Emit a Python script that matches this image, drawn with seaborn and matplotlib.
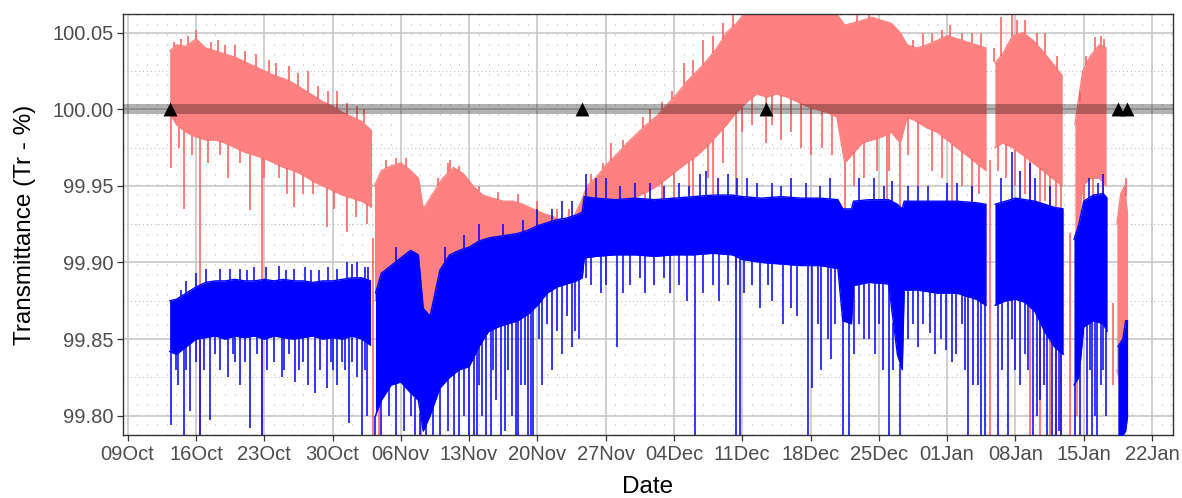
import numpy as np
import pandas as pd
import seaborn as sns
import matplotlib
matplotlib.use('Agg')
import matplotlib.pyplot as plt
import matplotlib.dates as mdates
from matplotlib.ticker import FixedLocator, MultipleLocator, FormatStrFormatter

START = pd.Timestamp('2017-10-09')

# ---- red trace: days after 09 Oct, top / bottom of the noise band, segment id
red_days = [4.3, 5, 6, 7, 8, 9, 10, 11, 12, 13, 14, 15, 16, 17, 18, 19, 20, 21, 22, 23, 24, 25.0,
            25.3, 26, 27, 28, 29, 29.8, 30.3, 31.3, 32.3, 33.4, 34.4, 35.4, 36.4, 37.4, 38.5, 39.5,
            40.5, 41.5, 42.6, 43.6, 44.6, 45.6, 46.5, 47.1, 48.1, 49.1, 50.2, 51.2, 52.2, 53.2,
            54.3, 55.3, 56.3, 57.3, 58.4, 59.4, 60.4, 61.4, 62.4, 63.5, 64.5, 65.5, 66.5, 67.6,
            68.6, 69.6, 70.6, 71.7, 72.7, 73.5, 74.2, 75.3, 76.3, 77.3, 78.3, 79.2, 79.9, 80.9,
            81.9, 83.0, 84.0, 85.0, 86.0, 87.0, 88.0,
            88.9, 89.7, 90.7, 91.8, 92.8, 93.8, 94.8, 95.8,
            97.1, 97.9, 98.7, 99.6, 100.3,
            101.4, 101.8, 102.2, 102.5]
red_hi = [100.038, 100.042, 100.041, 100.046, 100.040, 100.038, 100.036, 100.034, 100.031, 100.028,
          100.025, 100.022, 100.020, 100.017, 100.013, 100.009, 100.005, 100.002, 99.998, 99.995,
          99.992, 99.986,
          99.950, 99.960, 99.963, 99.965, 99.960, 99.955, 99.935, 99.945, 99.955, 99.962, 99.958,
          99.950, 99.944, 99.942, 99.940, 99.940, 99.938, 99.935, 99.932, 99.930, 99.926, 99.928,
          99.940, 99.950, 99.956, 99.964, 99.971, 99.978, 99.984, 99.990, 99.996, 100.003, 100.010,
          100.018, 100.025, 100.032, 100.040, 100.050, 100.056, 100.065, 100.065, 100.065, 100.065,
          100.065, 100.065, 100.065, 100.065, 100.065, 100.062, 100.055, 100.056, 100.058, 100.060,
          100.058, 100.056, 100.050, 100.042, 100.040, 100.042, 100.045, 100.048, 100.046, 100.044,
          100.042, 100.040,
          100.030, 100.036, 100.048, 100.050, 100.045, 100.038, 100.030, 100.022,
          99.990, 100.025, 100.035, 100.042, 100.040,
          99.925, 99.945, 99.950, 99.930]
red_lo = [99.998, 99.990, 99.985, 99.982, 99.980, 99.980, 99.978, 99.975, 99.972, 99.970, 99.968,
          99.965, 99.962, 99.960, 99.957, 99.953, 99.950, 99.947, 99.944, 99.942, 99.940, 99.936,
          99.875, 99.878, 99.880, 99.882, 99.882, 99.878, 99.862, 99.862, 99.870, 99.880, 99.890,
          99.895, 99.900, 99.900, 99.902, 99.905, 99.905, 99.905, 99.910, 99.910, 99.912, 99.915,
          99.920, 99.925, 99.930, 99.934, 99.938, 99.940, 99.943, 99.946, 99.950, 99.955, 99.960,
          99.965, 99.970, 99.976, 99.983, 99.990, 99.998, 100.005, 100.010, 100.008, 100.010,
          100.008, 100.005, 100.002, 100.000, 99.998, 99.995, 99.965, 99.970, 99.978, 99.980,
          99.982, 99.985, 99.978, 99.995, 99.992, 99.988, 99.985, 99.980, 99.975, 99.970, 99.965,
          99.960,
          99.975, 99.978, 99.975, 99.970, 99.965, 99.960, 99.955, 99.950,
          99.900, 99.950, 99.955, 99.955, 99.950,
          99.830, 99.820, 99.810, 99.820]
red_seg = [0] * 22 + [1] * 65 + [2] * 8 + [3] * 5 + [4] * 4

red_dn_days = [4.45, 5.8, 7.4, 10.3, 12.5, 13.8, 16.3, 17.0, 20.4, 22.5, 25.1, 25.8, 30.1, 56.0,
               58.0, 60.0, 62.4, 65.4, 67.0, 73.5, 75.5, 77.8, 79.2, 81.0, 84.5, 86.5, 88.4, 92.5,
               93.5, 94.5, 95.2, 95.7, 96.6, 97.3, 101.0,
               5.3, 6.6, 8.2, 9.5, 11.5, 14.0, 15.5, 18.0, 19.0, 21.2, 23.4, 24.5, 42.0, 47.8,
               49.0, 51.5, 53.0, 54.8, 57.5, 59.5, 61.0, 63.0, 64.0, 66.0, 68.0, 69.0, 70.0, 71.2,
               72.2, 74.5, 76.8, 78.0, 80.0, 82.5, 83.5, 85.5, 87.3, 89.2, 90.0, 91.0, 92.0, 94.0,
               98.0, 99.0, 100.0]
red_dn_vals = [99.962, 99.935, 99.78, 99.955, 99.934, 99.78, 99.945, 99.936, 99.923, 99.920, 99.78,
               99.78, 99.78, 99.935, 99.930, 99.945, 99.895, 99.978, 99.980, 99.928, 99.955, 99.940,
               99.905, 99.950, 99.930, 99.940, 99.78, 99.78, 99.78, 99.78, 99.78, 99.78, 99.78,
               99.80, 99.82,
               99.975, 99.970, 99.965, 99.970, 99.965, 99.955, 99.955, 99.945, 99.945, 99.935,
               99.930, 99.925, 99.900, 99.915, 99.920, 99.925, 99.930, 99.935, 99.945, 99.955,
               99.965, 99.985, 99.990, 99.990, 99.985, 99.975, 99.970, 99.975, 99.970, 99.950,
               99.960, 99.960, 99.970, 99.960, 99.955, 99.950, 99.945, 99.960, 99.955, 99.950,
               99.945, 99.940, 99.930, 99.935, 99.930]
red_up_days = [6.2, 7.0, 9.3, 11.0, 14.5, 18.5, 21.5, 24.2, 28.5, 33.0, 49.5, 53.5, 57.0, 59.0,
               74.8, 76.0, 81.5, 84.3, 87.5, 89.5, 90.7, 92.0, 94.0, 99.2,
               4.8, 5.5, 8.5, 10.0, 12.0, 13.2, 15.2, 16.5, 17.5, 19.5, 20.5, 22.5, 23.5, 26.5,
               27.5, 31.8, 32.8, 34.0, 36.0, 38.0, 40.0, 42.0, 44.0, 45.2, 47.5, 48.7, 50.8, 52.8,
               54.8, 55.8, 58.0, 60.0, 61.0, 62.0, 80.5, 82.5, 83.5, 85.5, 86.5, 88.8, 91.2, 93.2,
               95.3, 97.6, 98.2, 99.8, 100.1, 101.6, 102.3]
red_up_vals = [100.048, 100.052, 100.045, 100.042, 100.032, 100.025, 100.012, 100.000, 99.968,
               99.967, 99.978, 100.000, 100.030, 100.045, 100.062, 100.065, 100.050, 100.055,
               100.050, 100.060, 100.062, 100.058, 100.050, 100.047,
               100.044, 100.046, 100.044, 100.042, 100.038, 100.036, 100.030, 100.028, 100.024,
               100.015, 100.012, 100.004, 100.002, 99.967, 99.968, 99.955, 99.965, 99.963, 99.950,
               99.946, 99.945, 99.940, 99.935, 99.935, 99.958, 99.965, 99.980, 99.995, 100.005,
               100.012, 100.032, 100.048, 100.056, 100.062, 100.045, 100.050, 100.052, 100.050,
               100.050, 100.040, 100.058, 100.050, 100.035, 100.005, 100.035, 100.048, 100.046,
               99.935, 99.955]

# ---- blue trace
blue_days = [4.3, 5, 6, 7, 8, 9, 10, 11, 12, 13, 14, 15, 16, 17, 18, 19, 20, 21, 22, 23, 24, 24.9,
             25.4, 26.0, 27.0, 28.0, 29.0, 29.8, 30.3, 31.0, 32.0, 33.0, 34.0, 35.0, 36.0, 37.0,
             38.0, 39.0, 40.0, 41.0, 42.0, 43.0, 44.0, 45.0, 46.0, 46.6, 46.8, 48.0, 50.0, 52.0,
             54.0, 56.0, 58.0, 60.0, 62.0, 63.0, 65.0, 67.0, 69.0, 71.0, 72.8, 73.3, 74.2, 74.4,
             76.0, 78.0, 78.9, 79.4, 79.6, 81.0, 83.0, 85.0, 87.0, 88.0,
             88.9, 90.0, 91.0, 92.0, 93.0, 94.0, 95.0, 95.9,
             97.0, 97.5, 98.0, 99.0, 100.0, 100.4,
             101.5, 102.0, 102.3, 102.5]
blue_hi = [99.875, 99.876, 99.880, 99.884, 99.887, 99.888, 99.888, 99.889, 99.888, 99.888, 99.889,
           99.888, 99.889, 99.888, 99.888, 99.887, 99.888, 99.888, 99.889, 99.890, 99.890, 99.888,
           99.880, 99.893, 99.898, 99.903, 99.908, 99.905, 99.870, 99.865, 99.895, 99.905, 99.908,
           99.910, 99.914, 99.916, 99.917, 99.918, 99.919, 99.921, 99.924, 99.926, 99.928, 99.929,
           99.931, 99.933, 99.943, 99.942, 99.941, 99.942, 99.941, 99.942, 99.943, 99.944, 99.944,
           99.943, 99.942, 99.943, 99.942, 99.942, 99.941, 99.935, 99.935, 99.940, 99.941, 99.941,
           99.938, 99.935, 99.940, 99.940, 99.940, 99.940, 99.939, 99.938,
           99.938, 99.940, 99.942, 99.941, 99.940, 99.938, 99.936, 99.935,
           99.915, 99.925, 99.940, 99.944, 99.945, 99.942,
           99.845, 99.850, 99.862, 99.862]
blue_lo = [99.842, 99.840, 99.845, 99.850, 99.851, 99.852, 99.850, 99.852, 99.851, 99.852, 99.850,
           99.852, 99.851, 99.850, 99.851, 99.852, 99.850, 99.851, 99.850, 99.852, 99.850, 99.846,
           99.800, 99.810, 99.820, 99.822, 99.815, 99.810, 99.790, 99.800, 99.818, 99.825, 99.830,
           99.832, 99.845, 99.855, 99.858, 99.860, 99.862, 99.866, 99.872, 99.880, 99.884, 99.886,
           99.888, 99.890, 99.903, 99.904, 99.905, 99.905, 99.904, 99.905, 99.905, 99.906, 99.905,
           99.902, 99.900, 99.899, 99.898, 99.898, 99.896, 99.862, 99.860, 99.885, 99.887, 99.886,
           99.840, 99.830, 99.882, 99.882, 99.880, 99.880, 99.876, 99.872,
           99.872, 99.875, 99.876, 99.874, 99.868, 99.855, 99.845, 99.840,
           99.820, 99.825, 99.858, 99.862, 99.860, 99.855,
           99.787, 99.787, 99.790, 99.800]
blue_seg = [0] * 22 + [1] * 52 + [2] * 8 + [3] * 6 + [4] * 4

blue_dn_days = [4.4, 5.0, 5.2, 5.8, 6.4, 7.4, 8.4, 9.0, 10.3, 11.0, 12.5, 13.3, 13.8, 15.0, 15.8,
                16.5, 17.2, 18.0, 19.2, 20.4, 21.0, 22.0, 22.7, 23.5, 24.0, 24.5,
                25.4, 26.0, 26.8, 27.5, 28.3, 29.0, 29.5, 30.0, 30.6, 31.3, 32.0, 32.8, 33.5, 34.0,
                34.5, 35.0, 35.5, 36.0, 36.7, 37.5, 38.3, 39.0, 39.8, 40.3, 41.0, 41.6, 42.2, 43.0,
                44.0, 45.0, 45.9, 47.5, 48.5, 50.2, 51.5, 53.0, 55.0, 56.5, 58.2, 60.0, 61.5, 62.4,
                62.8, 64.0, 66.0, 68.0, 69.7, 70.2, 71.1, 72.1, 73.3, 73.9, 74.5, 75.0, 76.0, 77.4,
                78.0, 78.5, 79.2, 80.5, 81.5, 82.2, 83.9, 84.5, 85.5, 86.1, 86.7, 87.5, 87.9, 89.2,
                90.2, 91.0, 92.0, 92.8, 93.5, 94.2, 94.7, 95.2, 95.7, 97.1, 97.6, 98.3, 98.8, 99.4,
                100.0, 100.3,
                35.8, 36.3, 37.2, 37.8, 38.7, 39.4, 40.0, 40.7, 41.3, 42.5, 43.5, 44.5, 45.5, 46.3,
                47.0, 49.0, 50.8, 52.5, 54.0, 55.6, 57.3, 59.0, 60.6, 63.2, 64.8, 65.6, 67.2, 68.6,
                70.8, 71.8, 72.5, 75.5, 76.6, 77.0, 80.0, 81.0, 82.8, 83.4, 84.9, 85.8, 87.2, 89.6,
                90.6, 91.5, 92.3, 93.2, 93.9, 95.5, 98.6, 99.2, 99.8,
                6.0, 7.0, 7.8, 9.5, 10.8, 11.5, 12.0, 14.3, 16.0, 17.6, 18.5, 19.7, 20.8, 21.5,
                22.3, 23.0, 24.3]
blue_dn_vals = [99.794, 99.830, 99.820, 99.780, 99.803, 99.780, 99.797, 99.840, 99.825, 99.835,
                99.792, 99.840, 99.780, 99.835, 99.825, 99.840, 99.822, 99.835, 99.815, 99.818,
                99.830, 99.835, 99.795, 99.825, 99.780, 99.800,
                99.780, 99.780, 99.800, 99.780, 99.790, 99.800, 99.780, 99.780, 99.780, 99.780,
                99.780, 99.790, 99.780, 99.780, 99.800, 99.780, 99.780, 99.820, 99.780, 99.830,
                99.780, 99.830, 99.780, 99.820, 99.780, 99.780, 99.850, 99.860, 99.855, 99.865,
                99.855, 99.885, 99.880, 99.845, 99.885, 99.880, 99.890, 99.885, 99.780, 99.885,
                99.885, 99.780, 99.780, 99.885, 99.875, 99.870, 99.780, 99.818, 99.830, 99.837,
                99.780, 99.780, 99.840, 99.860, 99.850, 99.830, 99.780, 99.830, 99.780, 99.860,
                99.860, 99.854, 99.843, 99.835, 99.860, 99.780, 99.820, 99.780, 99.780, 99.780,
                99.780, 99.830, 99.840, 99.780, 99.810, 99.780, 99.780, 99.780, 99.780, 99.780,
                99.780, 99.780, 99.780, 99.780, 99.830, 99.800,
                99.780, 99.800, 99.780, 99.810, 99.790, 99.800, 99.780, 99.820, 99.780, 99.820,
                99.830, 99.840, 99.845, 99.850,
                99.890, 99.885, 99.880, 99.890, 99.885, 99.880, 99.875, 99.880, 99.875, 99.880,
                99.870, 99.885, 99.860, 99.865, 99.860, 99.850, 99.860, 99.850, 99.840, 99.860,
                99.850, 99.845, 99.840, 99.850, 99.840, 99.830, 99.820, 99.830, 99.850, 99.820,
                99.830, 99.800, 99.820, 99.790, 99.830, 99.800, 99.820,
                99.830, 99.835, 99.830, 99.830, 99.840, 99.820, 99.835, 99.830, 99.830, 99.830,
                99.820, 99.830, 99.835, 99.820, 99.830, 99.835, 99.830]
blue_up_days = [6.0, 8.0, 9.5, 11.5, 13.0, 15.5, 17.0, 18.8, 20.5, 22.5, 23.5, 24.3, 27.5, 36.0,
                42.0, 44.5, 47.0, 48.0, 52.0, 58.7, 59.3, 60.5, 63.5, 66.0, 68.0, 72.0, 76.5, 81.0,
                85.0, 90.7, 91.5, 93.0, 100.0,
                5.5, 7.0, 10.5, 12.2, 14.2, 16.2, 18.2, 19.6, 21.5, 23.0, 24.6, 32.5, 34.5, 38.5,
                40.5, 43.5, 45.5, 49.0, 50.5, 53.5, 55.0, 56.5, 57.5, 61.5, 62.5, 64.5, 67.0, 69.5,
                71.0, 75.0, 77.5, 78.3, 80.0, 82.0, 84.0, 86.5, 89.5, 92.5, 94.5, 98.5, 99.5]
blue_up_vals = [99.888, 99.896, 99.896, 99.896, 99.897, 99.898, 99.896, 99.895, 99.897, 99.900,
                99.900, 99.897, 99.910, 99.925, 99.935, 99.940, 99.958, 99.955, 99.952, 99.958,
                99.960, 99.955, 99.955, 99.952, 99.955, 99.955, 99.955, 99.950, 99.952, 99.972,
                99.960, 99.955, 99.958,
                99.882, 99.893, 99.896, 99.895, 99.897, 99.895, 99.897, 99.895, 99.896, 99.899,
                99.897, 99.910, 99.918, 99.925, 99.928, 99.935, 99.940, 99.955, 99.950, 99.952,
                99.950, 99.952, 99.950, 99.958, 99.955, 99.952, 99.950, 99.952, 99.950, 99.955,
                99.950, 99.953, 99.950, 99.950, 99.952, 99.950, 99.955, 99.965, 99.950, 99.955,
                99.952]

# triangles on the 100 % line
marker_days = [4.3, 46.6, 65.4, 101.5, 102.4]
marker_vals = [100.0, 100.0, 100.0, 100.0, 100.0]


def to_dates(days):
    return START + pd.to_timedelta(np.asarray(days, dtype=float), unit='D')


def draw_trace(ax, days, hi, lo, seg, dn_days, dn_vals, up_days, up_vals, fill, spike, z):
    df = pd.DataFrame({'date': to_dates(days), 'hi': hi, 'lo': lo, 'seg': seg})
    for _, part in df.groupby('seg'):
        ax.fill_between(part['date'], part['lo'], part['hi'], color=fill, lw=0, zorder=z)
    for col in ['hi', 'lo']:
        sns.lineplot(data=df, x='date', y=col, units='seg', estimator=None, color=fill,
                     lw=1.0, ax=ax, legend=False, zorder=z + 0.1)
    # spikes leave the band from its edge
    base_dn = np.interp(dn_days, days, lo)
    ax.vlines(to_dates(dn_days), base_dn, dn_vals, color=spike, lw=1.1, zorder=z + 0.2)
    base_up = np.interp(up_days, days, hi)
    ax.vlines(to_dates(up_days), base_up, up_vals, color=spike, lw=1.1, zorder=z + 0.2)


sns.set_theme(style='white')
plt.rcParams['font.family'] = ['Liberation Sans', 'DejaVu Sans']

fig = plt.figure(figsize=(11.82, 4.98), dpi=100)
ax = fig.add_axes([0.1043, 0.1265, 0.8883, 0.8454])

draw_trace(ax, red_days, red_hi, red_lo, red_seg, red_dn_days, red_dn_vals,
           red_up_days, red_up_vals, '#FF8080', '#FF5A5A', 2)
draw_trace(ax, blue_days, blue_hi, blue_lo, blue_seg, blue_dn_days, blue_dn_vals,
           blue_up_days, blue_up_vals, '#0000FF', '#0000FF', 3)

ax.axhline(100.0, color='black', alpha=0.3, lw=7.2, zorder=4)

mk = pd.DataFrame({'date': to_dates(marker_days), 'val': marker_vals})
sns.scatterplot(data=mk, x='date', y='val', marker='^', s=100, color='black',
                edgecolor='black', linewidth=0, ax=ax, zorder=5, legend=False)

# axes
ax.set_xlim(START - pd.Timedelta(days=0.45), START + pd.Timedelta(days=107.18))
ax.set_ylim(99.7874, 100.0622)

week_ticks = pd.date_range(START, periods=16, freq='7D')
day_ticks = pd.date_range(START - pd.Timedelta(days=1), periods=110, freq='1D')
ax.xaxis.set_major_locator(FixedLocator(mdates.date2num(week_ticks)))
ax.xaxis.set_minor_locator(FixedLocator(mdates.date2num(day_ticks)))
ax.xaxis.set_major_formatter(mdates.DateFormatter('%d%b'))
ax.yaxis.set_major_locator(MultipleLocator(0.05))
ax.yaxis.set_minor_locator(MultipleLocator(0.025))
ax.yaxis.set_major_formatter(FormatStrFormatter('%.2f'))

ax.grid(which='major', color='#C4C4C4', lw=1.1, zorder=0)
ax.grid(which='minor', axis='x', color='#BDBDBD', lw=0.8, linestyle=(0, (1, 8)), zorder=0)
ax.grid(which='minor', axis='y', color='#BDBDBD', lw=0.8, linestyle=(0, (1, 2.5)), zorder=0)
ax.set_axisbelow(True)

for sp in ax.spines.values():
    sp.set_color('#333333')
    sp.set_linewidth(1.0)

ax.tick_params(which='major', direction='out', length=4, width=0.9, color='#333333',
               labelsize=14.5, labelcolor='#4D4D4D', pad=3, bottom=True, left=True)
ax.tick_params(which='minor', length=0)
ax.set_xlabel('')
ax.set_ylabel('')

fig.text(0.5481, 0.022, 'Date', ha='center', va='center', fontsize=17.5, color='black')
fig.text(0.021, 0.549, 'Transmittance (Tr - %)', ha='center', va='center', rotation=90,
         fontsize=17.5, color='black')

fig.savefig('out.png', dpi=100)
